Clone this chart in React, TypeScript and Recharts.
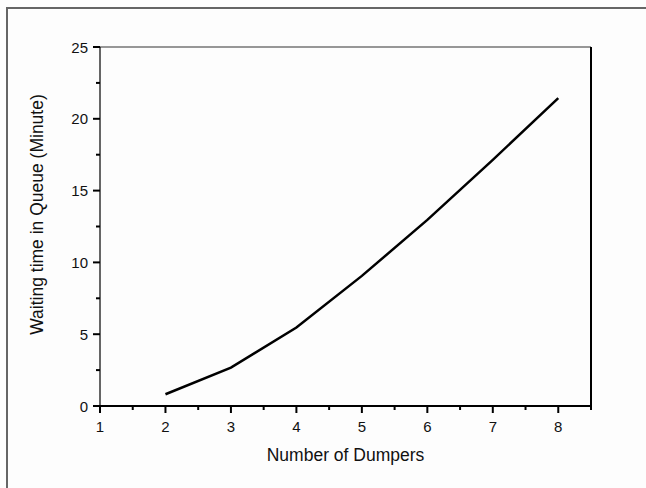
import React from 'react';
import { LineChart, Line, XAxis, YAxis, ReferenceLine, Label } from 'recharts';

const dumpers = [2, 3, 4, 5, 6, 7, 8];
const waitingTime = [0.82, 2.67, 5.46, 9.06, 12.96, 17.14, 21.44];
const xTicks = [1, 1.5, 2, 2.5, 3, 3.5, 4, 4.5, 5, 5.5, 6, 6.5, 7, 7.5, 8, 8.5];
const yTicks = [0, 2.5, 5, 7.5, 10, 12.5, 15, 17.5, 20, 22.5, 25];
const xLabels = [1, 2, 3, 4, 5, 6, 7, 8];
const yLabels = [0, 5, 10, 15, 20, 25];

const data = dumpers.map((n, i) => ({ n, wait: waitingTime[i] }));

const FONT = '"Liberation Sans", Arial, sans-serif';

const XTick = (props: any) => {
  const { x, y, payload } = props;
  const major = xLabels.includes(payload.value);
  return (
    <g>
      <line x1={x} x2={x} y1={y} y2={y + (major ? 7 : 4)} stroke="#000" strokeWidth={2} />
      {major && (
        <text x={x} y={y + 26} textAnchor="middle" fontSize={15} fill="#111" fontFamily={FONT}>
          {payload.value}
        </text>
      )}
    </g>
  );
};

const YTick = (props: any) => {
  const { x, y, payload } = props;
  const major = yLabels.includes(payload.value);
  return (
    <g>
      <line x1={x - (major ? 7 : 4)} x2={x} y1={y} y2={y} stroke="#000" strokeWidth={2} />
      {major && (
        <text x={x - 12} y={y + 5.5} textAnchor="end" fontSize={15} fill="#111" fontFamily={FONT}>
          {payload.value}
        </text>
      )}
    </g>
  );
};

export default function App() {
  return (
    <div style={{ position: 'fixed', left: 0, top: 0, width: 646, height: 488, background: '#fdfdfd', fontFamily: FONT }}>
      <div style={{ position: 'absolute', left: 6, top: 7, right: 0, bottom: 0, borderTop: '2px solid #666', borderLeft: '2px solid #666' }} />
      <LineChart width={646} height={488} data={data} margin={{ top: 47, right: 55, left: 40, bottom: 32 }}>
        <XAxis
          dataKey="n"
          type="number"
          domain={[1, 8.5]}
          ticks={xTicks}
          interval={0}
          tickSize={0}
          tickMargin={0}
          tickLine={false}
          tick={<XTick />}
          height={50}
          axisLine={{ stroke: '#000', strokeWidth: 2 }}
        >
          <Label
            content={(p: any) => {
              const vb = p.viewBox;
              return (
                <text x={vb.x + vb.width / 2} y={vb.y + 55} textAnchor="middle" fontSize={17.5} fill="#111" fontFamily={FONT}>
                  Number of Dumpers
                </text>
              );
            }}
          />
        </XAxis>
        <YAxis
          type="number"
          domain={[0, 25]}
          ticks={yTicks}
          interval={0}
          tickSize={0}
          tickMargin={0}
          tickLine={false}
          tick={<YTick />}
          width={60}
          axisLine={{ stroke: '#000', strokeWidth: 1.2 }}
        >
          <Label
            content={(p: any) => {
              const vb = p.viewBox;
              const cx = 43;
              const cy = vb.y + vb.height / 2 - 12;
              return (
                <text x={cx} y={cy} transform={`rotate(-90 ${cx} ${cy})`} textAnchor="middle" fontSize={17.5} fill="#111" fontFamily={FONT}>
                  Waiting time in Queue (Minute)
                </text>
              );
            }}
          />
        </YAxis>
        <ReferenceLine y={25} stroke="#333" strokeWidth={1.2} />
        <ReferenceLine x={8.5} stroke="#000" strokeWidth={2} />
        <Line type="linear" dataKey="wait" stroke="#000" strokeWidth={2.5} dot={false} isAnimationActive={false} />
      </LineChart>
    </div>
  );
}
